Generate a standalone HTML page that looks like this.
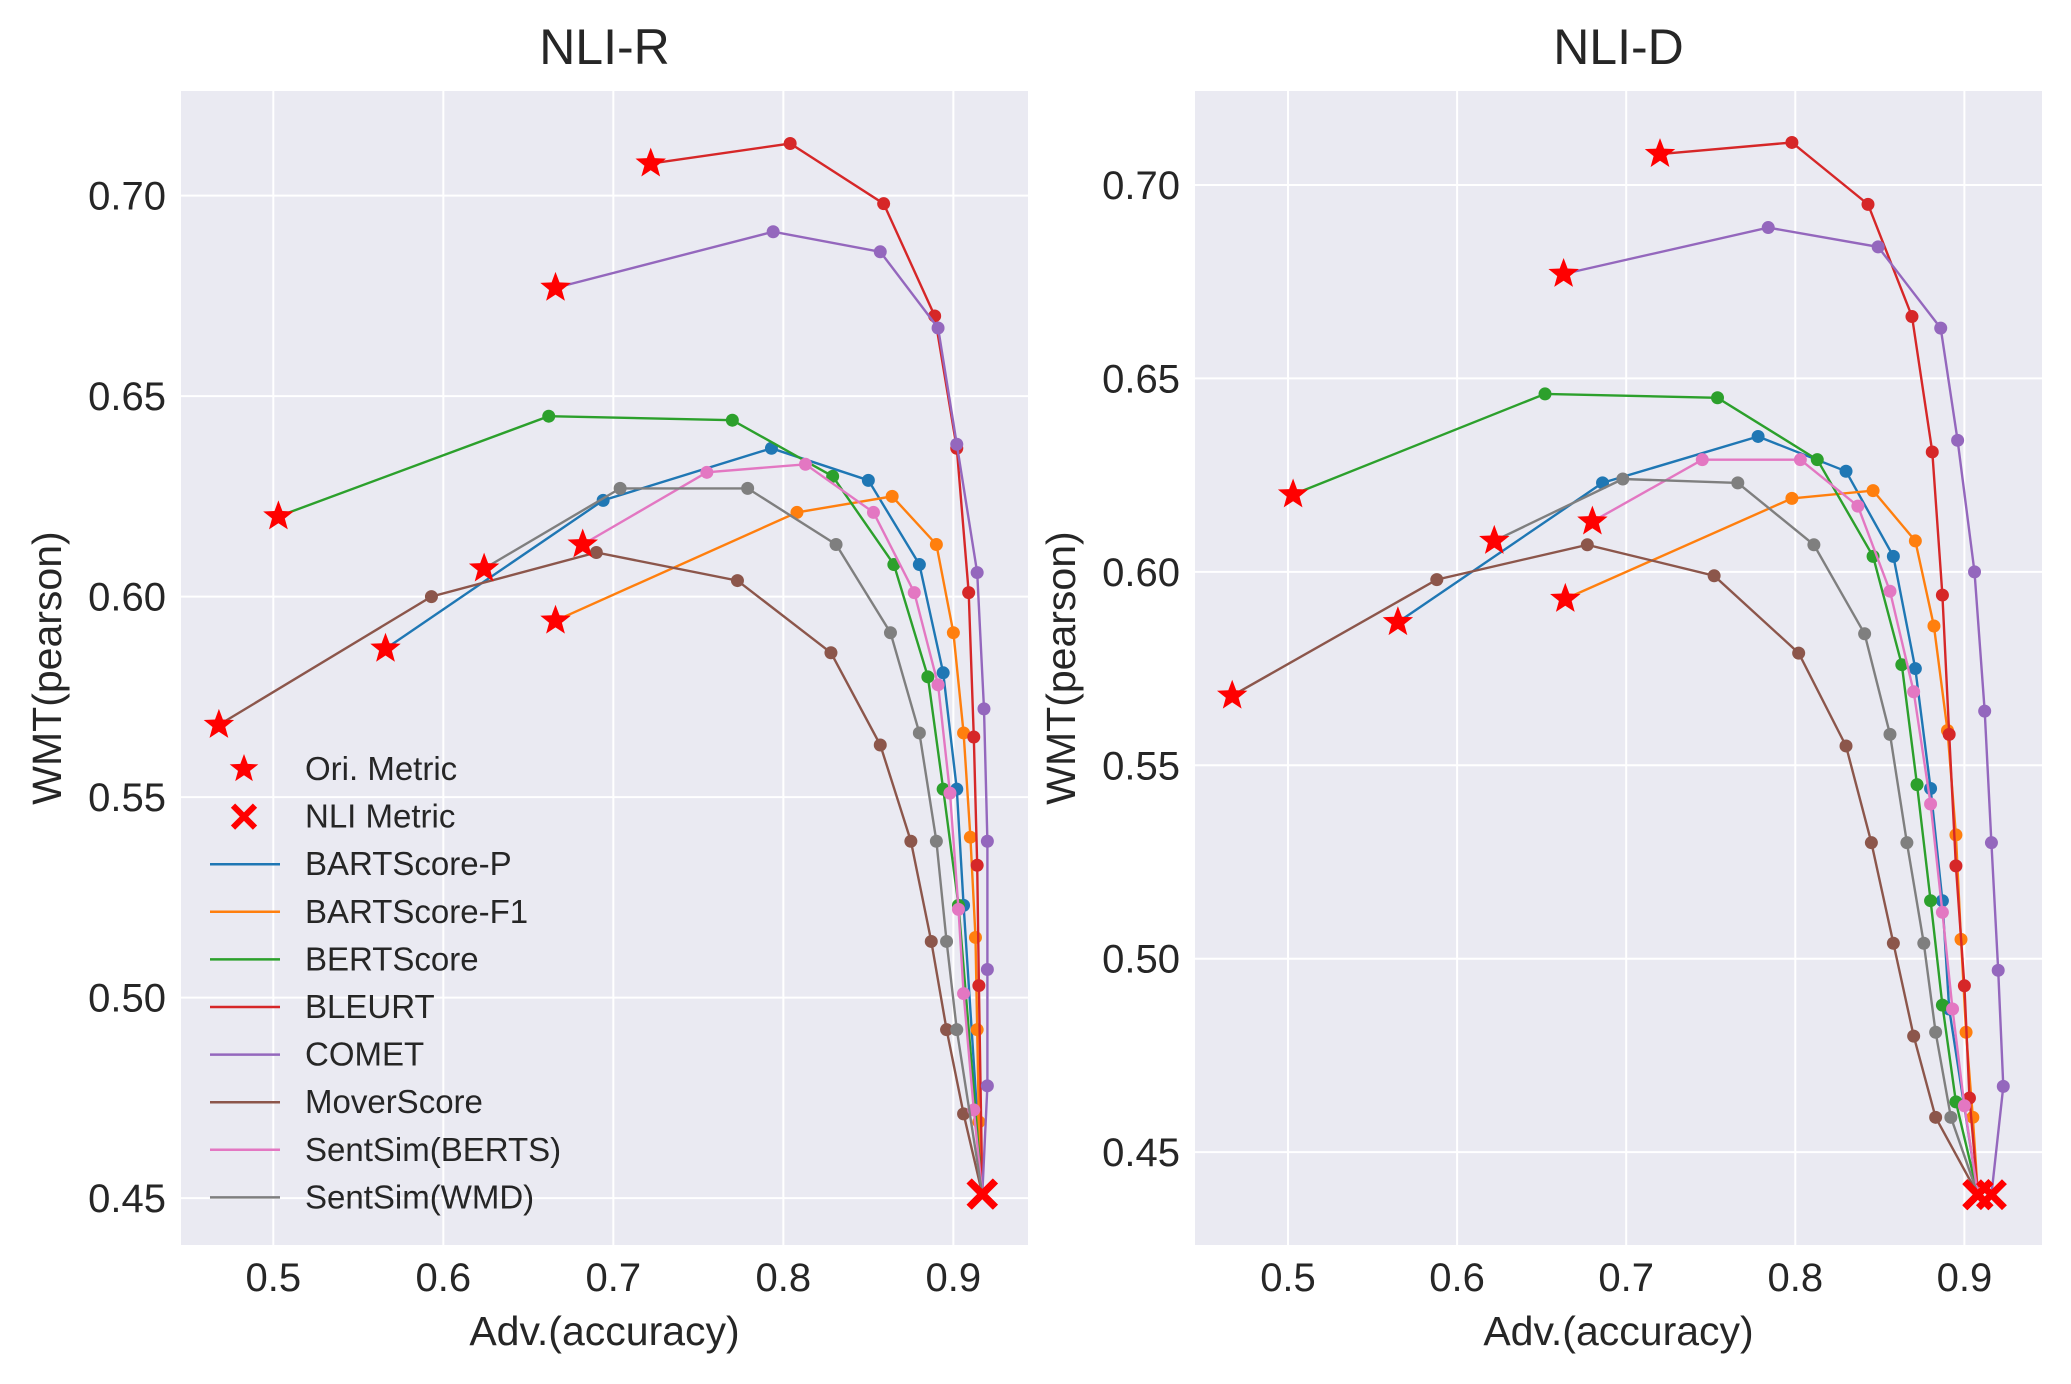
<!DOCTYPE html>
<html><head><meta charset="utf-8"><style>
html,body{margin:0;padding:0;background:#fff;}
svg{display:block;font-family:"Liberation Sans",Arial,sans-serif;}
</style></head><body>
<svg id="fig" width="2071" height="1384" viewBox="0 0 2071 1384"></svg>
<script>
const seriesNames = ["BARTScore-P","BARTScore-F1","BERTScore","BLEURT","COMET","MoverScore","SentSim(BERTS)","SentSim(WMD)"];
const seriesColors = ["#1f77b4","#ff7f0e","#2ca02c","#d62728","#9467bd","#8c564b","#e377c2","#7f7f7f"];
const xTicks = [0.5,0.6,0.7,0.8,0.9];
const yTicks = [0.45,0.50,0.55,0.60,0.65,0.70];

// NLI-R data
const rBartPX = [0.566,0.694,0.793,0.850,0.880,0.894,0.902,0.906,0.917];
const rBartPY = [0.587,0.624,0.637,0.629,0.608,0.581,0.552,0.523,0.451];
const rBartFX = [0.666,0.808,0.864,0.890,0.900,0.906,0.910,0.913,0.914,0.915,0.917];
const rBartFY = [0.594,0.621,0.625,0.613,0.591,0.566,0.540,0.515,0.492,0.469,0.451];
const rBertX = [0.503,0.662,0.770,0.829,0.865,0.885,0.894,0.903,0.917];
const rBertY = [0.620,0.645,0.644,0.630,0.608,0.580,0.552,0.523,0.451];
const rBleurtX = [0.722,0.804,0.859,0.889,0.902,0.909,0.912,0.914,0.915,0.917];
const rBleurtY = [0.708,0.713,0.698,0.670,0.637,0.601,0.565,0.533,0.503,0.451];
const rCometX = [0.666,0.794,0.857,0.891,0.902,0.914,0.918,0.920,0.920,0.920,0.917];
const rCometY = [0.677,0.691,0.686,0.667,0.638,0.606,0.572,0.539,0.507,0.478,0.451];
const rMoverX = [0.468,0.593,0.690,0.773,0.828,0.857,0.875,0.887,0.896,0.906,0.917];
const rMoverY = [0.568,0.600,0.611,0.604,0.586,0.563,0.539,0.514,0.492,0.471,0.451];
const rSbX = [0.682,0.755,0.813,0.853,0.877,0.891,0.898,0.903,0.906,0.912,0.917];
const rSbY = [0.613,0.631,0.633,0.621,0.601,0.578,0.551,0.522,0.501,0.472,0.451];
const rSwX = [0.624,0.704,0.779,0.831,0.863,0.880,0.890,0.896,0.902,0.917];
const rSwY = [0.607,0.627,0.627,0.613,0.591,0.566,0.539,0.514,0.492,0.451];

// NLI-D data
const dBartPX = [0.565,0.686,0.778,0.830,0.858,0.871,0.880,0.887,0.891,0.908];
const dBartPY = [0.587,0.623,0.635,0.626,0.604,0.575,0.544,0.515,0.487,0.439];
const dBartFX = [0.664,0.798,0.846,0.871,0.882,0.890,0.895,0.898,0.901,0.905,0.908];
const dBartFY = [0.593,0.619,0.621,0.608,0.586,0.559,0.532,0.505,0.481,0.459,0.439];
const dBertX = [0.503,0.652,0.754,0.813,0.846,0.863,0.872,0.880,0.887,0.895,0.908];
const dBertY = [0.620,0.646,0.645,0.629,0.604,0.576,0.545,0.515,0.488,0.463,0.439];
const dBleurtX = [0.720,0.798,0.843,0.869,0.881,0.887,0.891,0.895,0.900,0.903,0.908];
const dBleurtY = [0.708,0.711,0.695,0.666,0.631,0.594,0.558,0.524,0.493,0.464,0.439];
const dCometX = [0.663,0.784,0.849,0.886,0.896,0.906,0.912,0.916,0.920,0.923,0.916];
const dCometY = [0.677,0.689,0.684,0.663,0.634,0.600,0.564,0.530,0.497,0.467,0.439];
const dMoverX = [0.467,0.588,0.677,0.752,0.802,0.830,0.845,0.858,0.870,0.883,0.908];
const dMoverY = [0.568,0.598,0.607,0.599,0.579,0.555,0.530,0.504,0.480,0.459,0.439];
const dSbX = [0.680,0.745,0.803,0.837,0.856,0.870,0.880,0.887,0.893,0.900,0.908];
const dSbY = [0.613,0.629,0.629,0.617,0.595,0.569,0.540,0.512,0.487,0.462,0.439];
const dSwX = [0.622,0.698,0.766,0.811,0.841,0.856,0.866,0.876,0.883,0.892,0.908];
const dSwY = [0.608,0.624,0.623,0.607,0.584,0.558,0.530,0.504,0.481,0.459,0.439];

const panels = [
  {title:"NLI-R", key:"nli-r", x0:181, x1:1028, y0:91, y1:1245, xmin:0.4457, xmax:0.9439, ymin:0.4383, ymax:0.7261,
   xs:[rBartPX,rBartFX,rBertX,rBleurtX,rCometX,rMoverX,rSbX,rSwX], ys:[rBartPY,rBartFY,rBertY,rBleurtY,rCometY,rMoverY,rSbY,rSwY], legend:true},
  {title:"NLI-D", key:"nli-d", x0:1195, x1:2042, y0:91, y1:1245, xmin:0.445, xmax:0.9459, ymin:0.426, ymax:0.7243,
   xs:[dBartPX,dBartFX,dBertX,dBleurtX,dCometX,dMoverX,dSbX,dSwX], ys:[dBartPY,dBartFY,dBertY,dBleurtY,dCometY,dMoverY,dSbY,dSwY], legend:false}
];

const NS="http://www.w3.org/2000/svg";
const svg=document.getElementById('fig');
function mk(tag,attrs,parent){const e=document.createElementNS(NS,tag);for(const k in attrs)e.setAttribute(k,attrs[k]);(parent||svg).appendChild(e);return e;}
function starPath(cx,cy,R){const r=R*0.42;let d="";for(let i=0;i<10;i++){const rr=i%2?r:R;const a=-Math.PI/2+i*Math.PI/5;d+=(i?"L":"M")+(cx+rr*Math.cos(a)).toFixed(1)+","+(cy+rr*Math.sin(a)).toFixed(1);}return d+"Z";}

panels.forEach(p=>{
  const X=v=>p.x0+(v-p.xmin)/(p.xmax-p.xmin)*(p.x1-p.x0);
  const Y=v=>p.y1-(v-p.ymin)/(p.ymax-p.ymin)*(p.y1-p.y0);
  const g=mk('g',{});
  
  
  const bg=mk('rect',{x:p.x0,y:p.y0,width:p.x1-p.x0,height:p.y1-p.y0,fill:"#eaeaf2"},g);
  
  
  xTicks.forEach(t=>{
    mk('line',{x1:X(t),x2:X(t),y1:p.y0,y2:p.y1,stroke:"#fff","stroke-width":2},g);
    const tx=mk('text',{x:X(t),y:1291,"font-size":40,"text-anchor":"middle",fill:"#262626"},g);
    tx.textContent=t.toFixed(1);
    
    
  });
  yTicks.forEach(t=>{
    mk('line',{x1:p.x0,x2:p.x1,y1:Y(t),y2:Y(t),stroke:"#fff","stroke-width":2},g);
    const ty=mk('text',{x:p.x0-15,y:Y(t)+14,"font-size":40,"text-anchor":"end",fill:"#262626"},g);
    ty.textContent=t.toFixed(2);
    
    
  });
  const ti=mk('text',{x:(p.x0+p.x1)/2,y:64,"font-size":50,"text-anchor":"middle",fill:"#262626"},g);
  ti.textContent=p.title;
  
  
  const xl=mk('text',{x:(p.x0+p.x1)/2,y:1345,"font-size":41,"text-anchor":"middle",fill:"#262626"},g);
  xl.textContent="Adv.(accuracy)";
  
  
  const ylx=p.x0-120, yly=(p.y0+p.y1)/2;
  const yl=mk('text',{x:ylx,y:yly,"font-size":41,"text-anchor":"middle",fill:"#262626",transform:`rotate(-90 ${ylx} ${yly})`},g);
  yl.textContent="WMT(pearson)";
  
  

  p.xs.forEach((xa,si)=>{
    const ya=p.ys[si];
    const sg=mk('g',{},g);
    
    
    const pts=xa.map((v,i)=>X(v).toFixed(1)+","+Y(ya[i]).toFixed(1)).join(" ");
    mk('polyline',{points:pts,fill:"none",stroke:seriesColors[si],"stroke-width":2.4},sg);
    for(let i=1;i<xa.length-1;i++){
      const c=mk('circle',{cx:X(xa[i]),cy:Y(ya[i]),r:6.5,fill:seriesColors[si]},sg);
      
      
    }
  });
  p.xs.forEach((xa,si)=>{
    const ya=p.ys[si];
    const s=mk('path',{d:starPath(X(xa[0]),Y(ya[0]),16),fill:"#ff0000"},g);
    
    
    const n=xa.length-1, cx=X(xa[n]), cy=Y(ya[n]), h=13;
    const xg=mk('g',{stroke:"#ff0000","stroke-width":7},g);
    
    
    mk('line',{x1:cx-h,y1:cy-h,x2:cx+h,y2:cy+h},xg);
    mk('line',{x1:cx-h,y1:cy+h,x2:cx+h,y2:cy-h},xg);
  });

  if(p.legend){
    const lg=mk('g',{},g);
    
    
    const labels=["Ori. Metric","NLI Metric"].concat(seriesNames);
    labels.forEach((lab,i)=>{
      const yy=769+i*47.6;
      const eg=mk('g',{},lg);
      
      
      if(i===0){mk('path',{d:starPath(244,yy,15),fill:"#ff0000"},eg);}
      else if(i===1){mk('line',{x1:233,y1:yy-11,x2:255,y2:yy+11,stroke:"#ff0000","stroke-width":6},eg);mk('line',{x1:233,y1:yy+11,x2:255,y2:yy-11,stroke:"#ff0000","stroke-width":6},eg);}
      else{mk('line',{x1:210,x2:280,y1:yy,y2:yy,stroke:seriesColors[i-2],"stroke-width":2.5},eg);}
      const t=mk('text',{x:305,y:yy+11,"font-size":33,fill:"#262626"},eg);
      t.textContent=lab;
    });
  }
});
</script>
</body></html>
